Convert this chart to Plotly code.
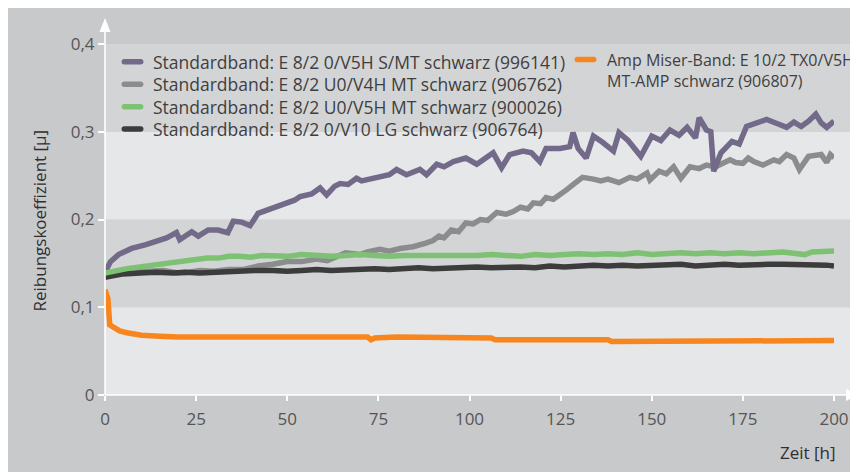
import plotly.graph_objects as go

# ---------------- data ----------------
purple_name = "Standardband: E 8/2 0/V5H S/MT schwarz (996141)"
purple_x = [0, 1.5, 3.7, 7.3, 11, 13.7, 16.9, 19.6, 20.5, 23.8, 25.6, 28.3, 31, 33.7, 35.2, 37.5, 39.8,
            42, 44.8, 48.5, 52, 53.5, 56.7, 59, 60.8, 63, 64.5, 66.7, 69, 70.4, 72.7, 75.4, 78, 80,
            82.7, 86.4, 88.2, 91, 93, 95.6, 99, 102, 104.7, 106.5, 108.8, 111, 114.7, 117, 119.3,
            121, 124.8, 127.5, 128.4, 129.8, 132, 134, 136.5, 139.5, 141, 143.5, 147, 150, 152.5,
            155, 157.5, 159.7, 162, 163, 165, 166.2, 167, 169, 172, 174, 176, 178.5, 181.5, 184,
            187, 189, 191, 193, 195, 196.5, 198, 200]
purple_y = [0.140, 0.152, 0.160, 0.167, 0.171, 0.175, 0.179, 0.185, 0.177, 0.186, 0.181, 0.188, 0.188,
            0.185, 0.198, 0.197, 0.193, 0.207, 0.211, 0.217, 0.222, 0.226, 0.229, 0.236, 0.228, 0.238,
            0.241, 0.240, 0.247, 0.244, 0.246, 0.249, 0.251, 0.257, 0.251, 0.257, 0.251, 0.263, 0.260,
            0.266, 0.270, 0.263, 0.270, 0.276, 0.259, 0.274, 0.278, 0.276, 0.266, 0.281, 0.281, 0.283,
            0.299, 0.281, 0.270, 0.295, 0.288, 0.278, 0.299, 0.290, 0.272, 0.295, 0.290, 0.302, 0.296,
            0.305, 0.293, 0.316, 0.302, 0.300, 0.255, 0.276, 0.289, 0.286, 0.306, 0.309, 0.314, 0.310,
            0.305, 0.311, 0.306, 0.312, 0.320, 0.310, 0.305, 0.312]

grey_name = "Standardband: E 8/2 U0/V4H MT schwarz (906762)"
grey_x = [0, 4, 8, 12, 16, 20, 23, 26, 30, 34, 38, 42, 46, 50, 54, 58, 61, 64, 66, 70, 72, 75.4, 78,
          81, 84.5, 88, 90, 91.6, 93, 95, 97, 99, 101, 103, 105, 107.5, 110, 112, 114, 116, 117.5,
          119.5, 121, 123, 125, 126.7, 128.5, 131, 134, 136, 138, 141, 144, 146, 148.7, 149.5, 152,
          154, 156, 158, 160.5, 163, 165, 167.5, 169.5, 171.5, 173, 175, 176.5, 178, 180.5, 183.5,
          185, 187, 189, 190.5, 193, 194.5, 196.5, 198, 199, 200]
grey_y = [0.138, 0.141, 0.142, 0.141, 0.142, 0.139, 0.140, 0.142, 0.141, 0.143, 0.143, 0.147, 0.149,
          0.152, 0.152, 0.155, 0.153, 0.158, 0.162, 0.160, 0.163, 0.166, 0.164, 0.167, 0.169, 0.173,
          0.176, 0.181, 0.179, 0.188, 0.186, 0.196, 0.195, 0.200, 0.199, 0.208, 0.206, 0.209, 0.214,
          0.212, 0.219, 0.218, 0.225, 0.223, 0.230, 0.234, 0.240, 0.248, 0.246, 0.244, 0.246, 0.242,
          0.248, 0.246, 0.253, 0.245, 0.255, 0.252, 0.260, 0.247, 0.260, 0.258, 0.262, 0.260, 0.264,
          0.268, 0.265, 0.264, 0.270, 0.266, 0.262, 0.268, 0.266, 0.274, 0.270, 0.257, 0.272, 0.273,
          0.274, 0.265, 0.274, 0.270]

green_name = "Standardband: E 8/2 U0/V5H MT schwarz (900026)"
green_x = [0, 3, 6, 9.6, 13, 16, 18.7, 22, 25, 28, 31, 34, 37, 40, 43, 46, 50, 54, 58, 62, 66, 70,
           74, 78, 82, 86, 90, 94, 98, 102, 106, 110, 114, 118, 122, 126, 130, 134, 138, 142, 146,
           150, 154, 158, 162, 166, 170, 174, 178, 182, 186, 190, 192, 194, 197, 200]
green_y = [0.139, 0.142, 0.144, 0.146, 0.148, 0.150, 0.152, 0.153, 0.155, 0.156, 0.156, 0.158, 0.158,
           0.157, 0.159, 0.159, 0.158, 0.160, 0.159, 0.158, 0.159, 0.160, 0.159, 0.158, 0.159, 0.159,
           0.158, 0.159, 0.158, 0.159, 0.160, 0.159, 0.158, 0.160, 0.159, 0.160, 0.161, 0.160, 0.161,
           0.160, 0.162, 0.160, 0.161, 0.162, 0.161, 0.162, 0.161, 0.162, 0.161, 0.162, 0.163, 0.161,
           0.160, 0.163, 0.163, 0.164]

black_name = "Standardband: E 8/2 0/V10 LG schwarz (906764)"
black_x = [0, 2, 5, 9.6, 14, 18.7, 22, 26, 30, 34, 37, 41, 46, 50, 54, 58, 62, 66, 70, 74, 78, 82,
           86, 90, 94, 98, 102, 106, 110, 114, 118, 122, 126, 130, 134, 138, 142, 146, 150, 154,
           158, 162, 166, 170, 174, 178, 182, 186, 190, 194, 198, 200]
black_y = [0.134, 0.136, 0.138, 0.139, 0.140, 0.139, 0.140, 0.139, 0.140, 0.141, 0.141, 0.142, 0.142,
           0.141, 0.142, 0.143, 0.142, 0.143, 0.143, 0.144, 0.143, 0.144, 0.145, 0.144, 0.145, 0.145,
           0.146, 0.145, 0.146, 0.146, 0.145, 0.147, 0.146, 0.147, 0.148, 0.147, 0.148, 0.147, 0.148,
           0.148, 0.149, 0.147, 0.148, 0.149, 0.148, 0.149, 0.149, 0.149, 0.149, 0.149, 0.148, 0.147]

orange_name_1 = "Amp Miser-Band: E 10/2 TX0/V5H"
orange_name_2 = "MT-AMP schwarz (906807)"
orange_x = [0, 0.8, 1.3, 2.5, 4, 6, 8, 10, 15, 20, 30, 40, 50, 60, 70, 72, 73, 74, 80, 90, 100, 106,
            107, 115, 116, 125, 138, 139, 150, 160, 170, 180, 190, 197, 198, 200]
orange_y = [0.120, 0.110, 0.080, 0.076, 0.073, 0.071, 0.069, 0.068, 0.067, 0.066, 0.066, 0.066, 0.066,
            0.066, 0.066, 0.066, 0.063, 0.065, 0.066, 0.066, 0.065, 0.065, 0.063, 0.063, 0.062, 0.062,
            0.063, 0.061, 0.061, 0.061, 0.061, 0.061, 0.061, 0.061, 0.062, 0.062]

x_ticks = [0, 25, 50, 75, 100, 125, 150, 175, 200]
x_ticklabels = ["0", "25", "50", "75", "100", "125", "150", "175", "200"]
y_ticks = [0, 0.1, 0.2, 0.3, 0.4]
y_ticklabels = ["0", "0,1", "0,2", "0,3", "0,4"]
y_title = "Reibungskoeffizient [µ]"
x_title = "Zeit [h]"

# ---------------- style ----------------
W, H = 858, 472
OFF = 8  # page offset of the figure (body margin)
L, T = 105 - OFF, 44 - OFF
PW, PH = 729, 351
R, B = W - L - PW, H - T - PH
FONT = "Open Sans"
FS = 17
FS_LEG = 17.5
FS_LEG2 = 16
C_PURPLE = "#736a8a"
C_GREY = "#8b8c8e"
C_GREEN = "#7dc173"
C_BLACK = "#3c3c3c"
C_ORANGE = "#f7861f"
C_OUTER = "#c8c9cb"
C_LIGHT = "#e6e7e9"
C_DARK = "#d3d4d6"
LW = 5.5


def px(xp):  # page pixel x -> paper
    return (xp - OFF - L) / PW


def py(yp):  # page pixel y -> paper
    return (T + PH - (yp - OFF)) / PH


fig = go.Figure()

for name, xs, ys, col in [
    (grey_name, grey_x, grey_y, C_GREY),
    (purple_name, purple_x, purple_y, C_PURPLE),
    (black_name, black_x, black_y, C_BLACK),
    (green_name, green_x, green_y, C_GREEN),
    (orange_name_1 + " " + orange_name_2, orange_x, orange_y, C_ORANGE),
]:
    fig.add_trace(go.Scatter(x=xs, y=ys, mode="lines", name=name, showlegend=False,
                             line=dict(color=col, width=LW), cliponaxis=False,
                             hoverinfo="x+y+name"))

shapes = []
# horizontal bands
for (lo, hi), col in zip([(0, 0.1), (0.1, 0.2), (0.2, 0.3), (0.3, 0.4)],
                         [C_LIGHT, C_DARK, C_LIGHT, C_DARK]):
    shapes.append(dict(type="rect", xref="paper", yref="paper", layer="below",
                       x0=0, x1=px(W + 12), y0=lo / 0.4, y1=hi / 0.4,
                       fillcolor=col, line=dict(width=0)))
# axis lines
shapes.append(dict(type="line", xref="paper", yref="paper", layer="above",
                   x0=px(105), x1=px(848), y0=0, y1=0, line=dict(color="white", width=1.6)))
shapes.append(dict(type="line", xref="paper", yref="paper", layer="above",
                   x0=0, x1=0, y0=0, y1=py(30), line=dict(color="white", width=1.6)))


def tri(pts):
    return "M " + " L ".join(f"{px(a):.5f},{py(b):.5f}" for a, b in pts) + " Z"


shapes.append(dict(type="path", xref="paper", yref="paper", layer="above",
                   path=tri([(105, 18), (99.5, 32), (110.5, 32)]),
                   fillcolor="white", line=dict(width=0)))
shapes.append(dict(type="path", xref="paper", yref="paper", layer="above",
                   path=tri([(858, 395), (846, 389), (846, 401)]),
                   fillcolor="white", line=dict(width=0)))


def pill(cx, cy, w=22, h=5.6, color="#000"):
    r = h / 2
    x0, x1 = cx - w / 2 + r, cx + w / 2 - r
    k = r * 4 / 3
    p = (f"M {px(x0):.5f},{py(cy - r):.5f} L {px(x1):.5f},{py(cy - r):.5f} "
         f"C {px(x1 + k):.5f},{py(cy - r):.5f} {px(x1 + k):.5f},{py(cy + r):.5f} {px(x1):.5f},{py(cy + r):.5f} "
         f"L {px(x0):.5f},{py(cy + r):.5f} "
         f"C {px(x0 - k):.5f},{py(cy + r):.5f} {px(x0 - k):.5f},{py(cy - r):.5f} {px(x0):.5f},{py(cy - r):.5f} Z")
    return dict(type="path", xref="paper", yref="paper", layer="above", path=p,
                fillcolor=color, line=dict(width=0))


annotations = []
LEG_COLOR = "#3f3f3f"
rows = [(purple_name, C_PURPLE, 61.7), (grey_name, C_GREY, 84.2),
        (green_name, C_GREEN, 106.7), (black_name, C_BLACK, 129.0)]
for name, col, yc in rows:
    shapes.append(pill(132.5, yc, color=col))
    annotations.append(dict(xref="paper", yref="paper", x=px(151), y=py(yc), text=name,
                            showarrow=False, xanchor="left", yanchor="middle",
                            font=dict(family=FONT, size=FS_LEG, color=LEG_COLOR)))
shapes.append(pill(585.5, 59.5, color=C_ORANGE))
annotations.append(dict(xref="paper", yref="paper", x=px(604.5), y=py(59.5), text=orange_name_1,
                        showarrow=False, xanchor="left", yanchor="middle",
                        font=dict(family=FONT, size=FS_LEG2, color=LEG_COLOR)))
annotations.append(dict(xref="paper", yref="paper", x=px(604.5), y=py(81), text=orange_name_2,
                        showarrow=False, xanchor="left", yanchor="middle",
                        font=dict(family=FONT, size=FS_LEG2, color=LEG_COLOR)))
# axis titles
annotations.append(dict(xref="paper", yref="paper", x=px(38.5), y=py(221), text=y_title,
                        showarrow=False, textangle=-90, xanchor="center", yanchor="middle",
                        font=dict(family=FONT, size=FS, color="#2f2f2f")))
annotations.append(dict(xref="paper", yref="paper", x=px(838), y=py(452.5), text=x_title,
                        showarrow=False, xanchor="right", yanchor="middle",
                        font=dict(family=FONT, size=FS, color="#2f2f2f")))

fig.update_layout(
    width=W, height=H,
    margin=dict(l=L, r=R, t=T, b=B, pad=0),
    paper_bgcolor=C_OUTER,
    plot_bgcolor="rgba(0,0,0,0)",
    showlegend=False,
    shapes=shapes,
    annotations=annotations,
    font=dict(family=FONT, size=FS, color="#555555"),
    xaxis=dict(range=[0, 200], tickvals=x_ticks, ticktext=x_ticklabels, showgrid=False,
               zeroline=False, showline=False, ticks="outside", ticklen=5, tickwidth=1.5,
               tickcolor="white", tickfont=dict(family=FONT, size=FS, color="#555555"),
               ticklabelstandoff=4, fixedrange=True),
    yaxis=dict(range=[0, 0.4], tickvals=y_ticks, ticktext=y_ticklabels, showgrid=False,
               zeroline=False, showline=False, ticks="outside", ticklen=6, tickwidth=1.5,
               tickcolor="white", tickfont=dict(family=FONT, size=FS, color="#555555"),
               fixedrange=True),
)

fig.write_html("out.html")
